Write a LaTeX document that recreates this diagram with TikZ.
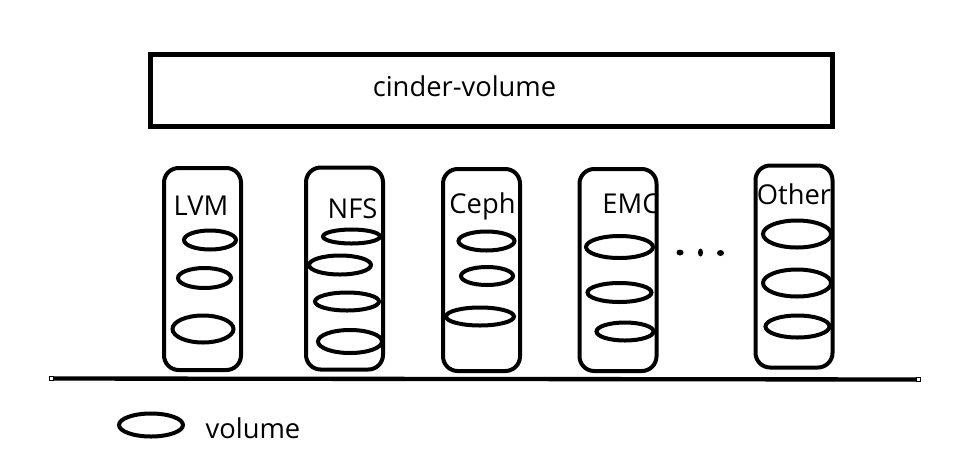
\documentclass[tikz,border=0pt]{standalone}
\usepackage{fontspec}
\setmainfont{Open Sans}
\begin{document}
\begin{tikzpicture}[x=0.75pt,y=-0.75pt,
  lbl/.style={font=\fontsize{20.5}{24}\selectfont, inner sep=0pt, anchor=base},
  drv/.style={draw, line width=3pt, rounded corners=11pt, minimum width=57.75pt, minimum height=151.5pt, inner sep=0pt},
  vol/.style={line width=3pt},
  hdl/.style={draw=black, fill=white, line width=0.5pt, minimum size=3pt, inner sep=0pt}
]
\useasboundingbox (0,0) rectangle (975,469);
% top box
\node[draw, line width=3.75pt, minimum width=511.5pt, minimum height=54pt, inner sep=0pt] (cv) at (491.5,90.5) {};
\node[lbl] (cvt) at (464.5,96) {cinder-volume};
% labels (under boxes)
\node[lbl] (tl) at (201,215) {LVM};
\node[lbl] (tn) at (352.5,218) {NFS};
\node[lbl] (tc) at (482.5,213) {Ceph};
\node[lbl] (te) at (631,213) {EMC};
\node[lbl] (to) at (794,204) {Other};
% driver boxes
\node[drv] (lvm) at (202.5,269) {};
\node[drv] (nfs) at (344.5,268.5) {};
\node[drv] (ceph) at (481.5,270) {};
\node[drv] (emc) at (618,270) {};
\node[drv] (oth) at (794,266.5) {};
% volumes
\draw[vol] (210,240) ellipse (26 and 9.5);
\draw[vol] (204.5,278) ellipse (26.5 and 10);
\draw[vol] (203,329) ellipse (30.5 and 13.5);
\draw[vol] (351.5,236.5) ellipse (28.5 and 7);
\draw[vol] (340,265) ellipse (31 and 9.5);
\draw[vol] (347,301.5) ellipse (32 and 9);
\draw[vol] (350,341.5) ellipse (32 and 11.5);
\draw[vol] (486.5,241) ellipse (28 and 9.5);
\draw[vol] (487,276) ellipse (26 and 9);
\draw[vol] (480,316.5) ellipse (34 and 9);
\draw[vol] (619.5,247) ellipse (33.5 and 11);
\draw[vol] (619.5,292.5) ellipse (32 and 9.5);
\draw[vol] (625,331.5) ellipse (28.5 and 9);
\draw[vol] (797,234) ellipse (34 and 13.5);
\draw[vol] (797,283) ellipse (34 and 13.5);
\draw[vol] (797.5,326.5) ellipse (32 and 11);
% dots
\fill (680,252.5) ellipse (3.5 and 3);
\fill (700.5,252.5) ellipse (2.5 and 4);
\fill (720.5,253) ellipse (3.5 and 3);
% base line
\coordinate (bl) at (51,378.5);
\coordinate (br) at (918,379.5);
\draw[line width=3.25pt] (bl) -- (br);
\node[hdl] at (bl) {};
\node[hdl] at (br) {};
% legend
\draw[vol] (151,425) ellipse (32 and 11.5);
\node[lbl] (lg) at (253,438) {volume};
\end{tikzpicture}
\end{document}
